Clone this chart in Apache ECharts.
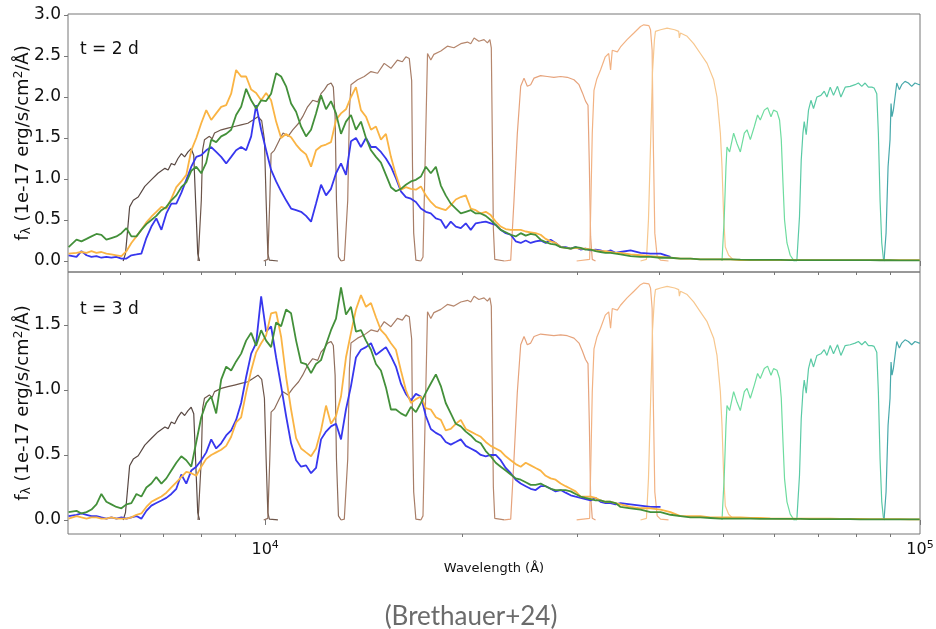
<!DOCTYPE html>
<html>
<head>
<meta charset="utf-8">
<title>Spectra and filter curves</title>
<script src="https://cdn.jsdelivr.net/npm/echarts@6/dist/echarts.min.js"></script>
<style>
  html, body { margin: 0; padding: 0; background: #fff; }
  #chart { width: 936px; height: 629px; }
</style>
</head>
<body>
<div id="chart"></div>
<script>
// Wavelength grid (Å) shared by the spectra
const wavelength = [
  5010, 5152, 5242, 5336, 5430, 5526, 5623, 5722, 5824, 5928,
  6033, 6140, 6248, 6360, 6471, 6586, 6703, 6821, 6944, 7066,
  7191, 7318, 7447, 7579, 7713, 7850, 7988, 8130, 8273, 8419,
  8568, 8720, 8874, 9030, 9191, 9354, 9521, 9689, 9861, 10035,
  10212, 10394, 10578, 10765, 10955, 11150, 11347, 11547, 11752, 11960,
  12172, 12388, 12606, 12830, 13057, 13287, 13523, 13762, 14006, 14256,
  14508, 14765, 15025, 15292, 15563, 15838, 16118, 16403, 16696, 16991,
  17292, 17597, 17906, 18227, 18549, 18870, 19207, 19551, 19897, 20249,
  20606, 20970, 21345, 21722, 22105, 22496, 22894, 23299, 23714, 24135,
  24561, 24998, 25438, 25885, 26345, 26813, 27290, 27767, 28265, 28762,
  29282, 29790, 30320, 30850, 31405, 31955, 32521, 33100, 33686, 34280,
  34890, 36140, 37430, 38770, 40160, 41590, 43070, 44610, 46200, 47860,
  49560, 51340, 53170, 55070, 57030, 59070, 61180, 63360, 65630, 67970,
  70400, 72910, 75510, 78220, 81010, 83900, 86900, 90000, 93220, 96550,
  99900
];

// t = 2 d spectra (1e-17 erg/s/cm2/Å)
const blue2d = [
  0.07, 0.05, 0.12, 0.07, 0.05, 0.06, 0.04, 0.05, 0.04, 0.05,
  0.03, 0.03, 0.07, 0.08, 0.09, 0.28, 0.42, 0.52, 0.38, 0.58,
  0.70, 0.70, 0.83, 0.99, 1.15, 1.27, 1.29, 1.35, 1.39, 1.33,
  1.27, 1.19, 1.27, 1.35, 1.39, 1.35, 1.52, 1.90, 1.60, 1.35,
  1.11, 0.97, 0.85, 0.74, 0.64, 0.62, 0.60, 0.55, 0.48, 0.70,
  0.93, 0.80, 0.88, 1.07, 1.19, 1.05, 1.46, 1.50, 1.39, 1.50,
  1.39, 1.39, 1.33, 1.25, 1.15, 1.01, 0.85, 0.78, 0.76, 0.72,
  0.64, 0.60, 0.58, 0.52, 0.50, 0.40, 0.48, 0.42, 0.40, 0.46,
  0.38, 0.46, 0.47, 0.48, 0.46, 0.44, 0.38, 0.34, 0.32, 0.24,
  0.22, 0.25, 0.22, 0.24, 0.25, 0.22, 0.26, 0.22, 0.17, 0.17,
  0.15, 0.17, 0.14, 0.15, 0.13, 0.14, 0.13, 0.11, 0.13, 0.10,
  0.11, 0.13, 0.10, 0.09, 0.09, 0.05
];
const orange2d = [
  0.09, 0.10, 0.11, 0.10, 0.12, 0.10, 0.11, 0.09, 0.08, 0.07,
  0.06, 0.12, 0.22, 0.30, 0.38, 0.47, 0.54, 0.60, 0.66, 0.64,
  0.76, 0.90, 0.97, 1.05, 1.35, 1.50, 1.68, 1.84, 1.72, 1.80,
  1.88, 1.90, 2.04, 2.33, 2.25, 2.25, 2.09, 2.05, 1.96, 2.05,
  1.96, 1.70, 1.50, 1.55, 1.51, 1.42, 1.35, 1.30, 1.15, 1.35,
  1.40, 1.42, 1.45, 1.72, 1.80, 1.85, 2.00, 2.12, 1.84, 1.76,
  1.60, 1.64, 1.48, 1.55, 1.27, 1.05, 0.87, 0.90, 0.88, 0.87,
  0.91, 0.80, 0.72, 0.66, 0.64, 0.62, 0.68, 0.75, 0.78, 0.80,
  0.64, 0.62, 0.58, 0.60, 0.56, 0.48, 0.42, 0.39, 0.38, 0.38,
  0.38, 0.36, 0.35, 0.34, 0.32, 0.27, 0.24, 0.22, 0.17, 0.16,
  0.15, 0.16, 0.15, 0.15, 0.14, 0.13, 0.12, 0.12, 0.11, 0.10,
  0.10, 0.08, 0.07, 0.06, 0.05, 0.04, 0.03, 0.03, 0.02, 0.02,
  0.02, 0.02, 0.01, 0.01, 0.01, 0.01, 0.01, 0.01, 0.01, 0.01,
  0.01, 0.01, 0.01, 0.01, 0.01, 0.01, 0.01, 0.01, 0.01, 0.01,
  0.01
];
const green2d = [
  0.17, 0.26, 0.24, 0.27, 0.30, 0.33, 0.32, 0.26, 0.28, 0.30,
  0.34, 0.40, 0.30, 0.30, 0.38, 0.45, 0.50, 0.55, 0.62, 0.66,
  0.74, 0.80, 0.90, 0.96, 1.10, 1.15, 1.07, 1.20, 1.48, 1.45,
  1.52, 1.55, 1.60, 1.78, 1.88, 2.10, 1.96, 1.86, 1.96, 1.95,
  2.04, 2.29, 2.25, 2.13, 1.92, 1.82, 1.64, 1.52, 1.60, 1.80,
  2.02, 1.85, 1.95, 1.80, 1.55, 1.70, 1.78, 1.60, 1.70, 1.50,
  1.35, 1.27, 1.20, 1.05, 0.90, 0.85, 0.88, 0.93, 0.97, 0.99,
  1.03, 1.15, 1.07, 1.15, 0.92, 0.80, 0.70, 0.64, 0.58, 0.60,
  0.62, 0.58, 0.58, 0.55, 0.50, 0.44, 0.38, 0.35, 0.32, 0.30,
  0.34, 0.31, 0.33, 0.32, 0.26, 0.23, 0.21, 0.20, 0.17, 0.16,
  0.15, 0.17, 0.16, 0.14, 0.14, 0.12, 0.11, 0.10, 0.10, 0.09,
  0.08, 0.06, 0.05, 0.05, 0.04, 0.04, 0.03, 0.03, 0.02, 0.02,
  0.02, 0.02, 0.016, 0.015, 0.015, 0.014, 0.013, 0.012, 0.012, 0.011,
  0.011, 0.01, 0.01, 0.01, 0.01, 0.01, 0.009, 0.009, 0.008, 0.008,
  0.008
];

// t = 3 d spectra
const blue3d = [
  0.03, 0.04, 0.05, 0.04, 0.03, 0.03, 0.02, 0.01, 0.02, 0.01,
  0.02, 0.01, 0.02, 0.03, 0.01, 0.07, 0.11, 0.13, 0.15, 0.17,
  0.20, 0.24, 0.35, 0.28, 0.38, 0.41, 0.46, 0.52, 0.62, 0.55,
  0.59, 0.65, 0.69, 0.77, 0.90, 1.10, 1.28, 1.36, 1.72, 1.45,
  1.49, 1.25, 1.03, 0.80, 0.59, 0.46, 0.41, 0.42, 0.36, 0.40,
  0.62, 0.68, 0.72, 0.74, 0.62, 0.85, 1.03, 1.25, 1.31, 1.33,
  1.36, 1.27, 1.30, 1.33, 1.26, 1.18, 1.05, 0.97, 0.92, 0.97,
  0.95, 0.80, 0.70, 0.67, 0.65, 0.60, 0.58, 0.60, 0.62, 0.57,
  0.55, 0.53, 0.50, 0.49, 0.50, 0.50, 0.46, 0.40, 0.36, 0.31,
  0.28, 0.26, 0.24, 0.23, 0.26, 0.26, 0.24, 0.22, 0.23, 0.21,
  0.19, 0.18, 0.17, 0.16, 0.15, 0.17, 0.14, 0.13, 0.13, 0.12,
  0.13, 0.12, 0.11, 0.10, 0.10
];
const orange3d = [
  0.01, 0.03, 0.02, 0.01, 0.02, 0.02, 0.01, 0.01, 0.02, 0.01,
  0.01, 0.01, 0.02, 0.04, 0.05, 0.10, 0.14, 0.16, 0.18, 0.21,
  0.25, 0.29, 0.33, 0.37, 0.36, 0.34, 0.41, 0.47, 0.50, 0.52,
  0.54, 0.57, 0.64, 0.75, 0.79, 0.98, 1.15, 1.29, 1.36, 1.42,
  1.59, 1.60, 1.41, 1.10, 0.85, 0.63, 0.55, 0.52, 0.49, 0.55,
  0.69, 0.88, 0.74, 0.80, 0.95, 1.25, 1.44, 1.62, 1.73, 1.64,
  1.67, 1.56, 1.46, 1.42, 1.36, 1.31, 1.15, 1.00, 0.90, 0.93,
  0.95, 0.86, 0.85, 0.79, 0.77, 0.69, 0.70, 0.74, 0.77, 0.70,
  0.68, 0.66, 0.64, 0.60, 0.57, 0.55, 0.53, 0.49, 0.46, 0.43,
  0.41, 0.44, 0.42, 0.40, 0.38, 0.34, 0.32, 0.31, 0.28, 0.26,
  0.24, 0.22, 0.18, 0.18, 0.18, 0.17, 0.15, 0.14, 0.14, 0.13,
  0.12, 0.10, 0.09, 0.09, 0.08, 0.06, 0.03, 0.03, 0.03, 0.02,
  0.02, 0.02, 0.02, 0.015, 0.015, 0.012, 0.01, 0.01, 0.01, 0.01,
  0.01, 0.01, 0.008, 0.008, 0.008, 0.007, 0.007, 0.006, 0.006, 0.005,
  0.005
];
const green3d = [
  0.06, 0.07, 0.05, 0.06, 0.08, 0.12, 0.20, 0.14, 0.12, 0.10,
  0.09, 0.12, 0.13, 0.20, 0.18, 0.25, 0.28, 0.33, 0.28, 0.32,
  0.38, 0.44, 0.49, 0.46, 0.41, 0.60, 0.79, 0.90, 0.95, 0.82,
  1.08, 1.18, 1.15, 1.22, 1.28, 1.38, 1.44, 1.34, 1.46, 1.38,
  1.33, 1.52, 1.49, 1.62, 1.59, 1.38, 1.21, 1.20, 1.13, 1.20,
  1.23, 1.35, 1.46, 1.55, 1.79, 1.58, 1.64, 1.45, 1.46, 1.38,
  1.31, 1.20, 1.15, 1.02, 0.85, 0.85, 0.82, 0.80, 0.87, 0.83,
  0.90, 0.98, 1.05, 1.12, 1.03, 0.90, 0.82, 0.74, 0.72, 0.68,
  0.65, 0.61, 0.59, 0.53, 0.49, 0.44, 0.41, 0.38, 0.35, 0.32,
  0.31, 0.29, 0.27, 0.27, 0.28, 0.26, 0.24, 0.23, 0.23, 0.23,
  0.22, 0.20, 0.18, 0.17, 0.16, 0.15, 0.15, 0.14, 0.14, 0.13,
  0.10, 0.09, 0.08, 0.06, 0.06, 0.04, 0.03, 0.02, 0.02, 0.015,
  0.01, 0.01, 0.01, 0.01, 0.009, 0.009, 0.008, 0.008, 0.008, 0.007,
  0.007, 0.006, 0.006, 0.006, 0.005, 0.005, 0.005, 0.005, 0.005, 0.005,
  0.005
];

// Filter transmission curves [wavelength Å, height in t = 2 d panel units]
const F070W = [[6070,0],[6120,0.09],[6160,0.34],[6210,0.66],[6290,0.74],[6400,0.78],[6550,0.91],[6700,0.99],[6860,1.07],[7030,1.13],[7110,1.11],[7190,1.19],[7275,1.17],[7360,1.25],[7450,1.31],[7535,1.27],[7625,1.33],[7710,1.37],[7780,1.29],[7830,0.74],[7890,0.09],[7940,0]];
const F090W = [[7900,0],[7940,0.02],[7990,0.74],[8025,1.35],[8080,1.48],[8220,1.52],[8300,1.49],[8370,1.56],[8570,1.60],[8770,1.62],[8980,1.64],[9190,1.66],[9410,1.68],[9580,1.72],[9750,1.76],[9880,1.71],[9975,1.48],[10035,0.74],[10095,0.09],[10150,0.01],[10460,0]];
const F115W = [[9950,0],[10095,0.02],[10165,0.74],[10212,1.31],[10330,1.35],[10520,1.48],[10650,1.56],[10840,1.52],[11020,1.60],[11250,1.68],[11410,1.76],[11610,1.88],[11820,1.96],[12030,1.94],[12170,2.04],[12320,2.09],[12460,2.15],[12610,2.17],[12710,2.12],[12790,1.76],[12850,0.74],[12940,0.05],[13060,0]];
const F150W = [[13060,0],[13210,0.01],[13370,0.74],[13450,1.84],[13523,2.15],[13840,2.21],[14170,2.25],[14508,2.31],[14850,2.29],[15200,2.41],[15563,2.35],[15920,2.45],[16200,2.43],[16403,2.49],[16600,2.47],[16680,2.49],[16740,2.20],[16790,1.15],[16860,0.34],[16990,0.01],[17290,0]];
const F200W = [[17290,0],[17420,0.05],[17560,1.30],[17700,2.53],[17906,2.45],[18100,2.52],[18549,2.56],[18980,2.62],[19420,2.60],[19897,2.65],[20370,2.67],[20606,2.65],[20850,2.72],[21200,2.68],[21590,2.70],[21850,2.66],[22040,2.70],[22150,2.60],[22230,1.50],[22310,0.40],[22420,0.02],[23200,0]];
const F277W = [[23200,0],[23714,0.01],[23990,0.74],[24270,1.55],[24561,2.13],[24850,2.23],[25140,2.13],[25438,2.15],[25740,2.23],[26345,2.26],[26960,2.25],[27600,2.24],[28265,2.25],[28930,2.24],[29620,2.21],[30150,2.15],[30520,2.05],[30850,1.95],[31120,1.90],[31260,1.20],[31405,0.30],[31590,0.02],[31955,0]];
const F356W = [[29900,0],[31300,0.02],[31450,0.80],[31590,1.56],[31780,2.08],[32100,2.22],[32520,2.33],[33070,2.49],[33470,2.53],[33690,2.33],[33890,2.57],[34500,2.55],[34890,2.61],[35700,2.70],[36570,2.78],[37430,2.86],[37860,2.88],[38550,2.87],[38770,2.82],[38990,2.57],[39130,1.56],[39360,0.34],[39690,0.05],[40160,0.01],[41300,0]];
const F444W = [[37430,0],[38220,0.02],[38490,0.50],[38770,1.40],[39040,2.30],[39310,2.70],[39450,2.80],[40160,2.82],[41100,2.84],[42210,2.82],[42810,2.80],[42910,2.72],[43070,2.78],[44100,2.74],[45120,2.65],[46200,2.53],[47300,2.41],[48410,2.21],[48980,2.00],[49560,1.56],[49850,1.15],[50140,0.54],[50430,0.17],[51030,0.07],[51800,0.02]];
const F560W = [[49850,0],[50250,0.54],[50550,1.15],[50730,1.39],[51200,1.33],[51930,1.56],[52560,1.43],[53170,1.33],[53920,1.56],[54430,1.60],[55070,1.48],[55850,1.64],[56490,1.78],[57030,1.72],[57840,1.84],[58510,1.87],[59220,1.76],[59760,1.84],[60480,1.82],[61030,1.72],[61400,1.48],[61770,0.95],[62110,0.50],[62640,0.22],[63360,0.07],[64100,0.01],[64870,0]];
const F770W = [[64100,0],[64860,0.01],[65460,0.54],[65860,1.23],[66260,1.56],[66560,1.70],[67030,1.54],[67570,1.84],[68150,1.96],[68770,1.86],[69600,2.00],[70580,2.02],[71410,2.07],[72090,2.00],[72930,2.12],[73780,2.02],[74820,2.13],[75720,2.00],[76870,2.12],[78220,2.13],[79600,2.15],[80520,2.17],[81490,2.13],[82450,2.17],[83410,2.12],[84410,2.12],[85090,2.11],[85900,2.04],[86380,1.56],[86900,0.74],[87420,0.22],[87920,0.03],[88430,0]];
const F1000W = [[88120,0],[88750,0.34],[89380,1.15],[90000,1.48],[90320,1.92],[90630,1.76],[91060,1.84],[91600,2.00],[92160,2.17],[92990,2.09],[93780,2.15],[94870,2.19],[95990,2.17],[97120,2.13],[98260,2.17],[99750,2.15],[100000,2.15]];

const filterCurves = [F070W, F090W, F115W, F150W, F200W, F277W, F356W, F444W, F560W, F770W, F1000W];
const filterColors = ['#584843', '#6e564a', '#8e6d5c', '#a77d67', '#b6876d', '#e6a37c', '#f2b283', '#f7c78e', '#6edc9f', '#5acaa5', '#48a9ab'];
// filter curves in the t = 3 d panel are drawn at this fraction of the t = 2 d height
const filterScale3d = 0.633;

const yTicks2d = [0, 0.5, 1.0, 1.5, 2.0, 2.5, 3.0];
const yTicks3d = [0, 0.5, 1.0, 1.5];
const xMajorTicks = [10000, 100000];
const xMinorTicks = [6000, 7000, 8000, 9000, 20000, 30000, 40000, 50000, 60000, 70000, 80000, 90000];

const FONT = 'DejaVu Sans';
const AXIS_GRAY = '#777';

const chart = echarts.init(document.getElementById('chart'), null, { renderer: 'canvas' });

function logAxis(gridIndex, ticks, tickLen, withLabels) {
  return {
    type: 'log',
    logBase: 10,
    gridIndex: gridIndex,
    position: 'bottom',
    min: 5000,
    max: 100000,
    axisLine: { show: false },
    splitLine: { show: false },
    axisTick: {
      show: true,
      inside: false,
      length: tickLen,
      customValues: ticks,
      lineStyle: { color: AXIS_GRAY, width: 1 }
    },
    axisLabel: withLabels ? {
      show: true,
      customValues: xMajorTicks,
      margin: 6,
      fontFamily: FONT,
      fontSize: 16,
      color: '#111',
      formatter: function (v) {
        return '10{sup|' + Math.round(Math.log10(v)) + '}';
      },
      rich: {
        sup: { fontSize: 11, fontFamily: FONT, color: '#111', verticalAlign: 'top', lineHeight: 20 }
      }
    } : { show: false }
  };
}

const yName = 'f{sub|λ} (1e-17 erg/s/cm{sup|2}/Å)';
const yNameStyle = {
  fontFamily: FONT,
  fontSize: 18,
  color: '#111',
  lineHeight: 20,
  rich: {
    sub: { fontSize: 12, fontFamily: FONT, color: '#111', verticalAlign: 'bottom', lineHeight: 20 },
    sup: { fontSize: 12, fontFamily: FONT, color: '#111', verticalAlign: 'top', lineHeight: 20 }
  }
};

function valueAxis(gridIndex, min, max, ticks) {
  return {
    type: 'value',
    gridIndex: gridIndex,
    min: min,
    max: max,
    name: yName,
    nameLocation: 'middle',
    nameGap: 35,
    nameMoveOverlap: false,
    nameTextStyle: yNameStyle,
    axisLine: { show: false },
    splitLine: { show: false },
    axisTick: { show: true, length: 4, customValues: ticks, lineStyle: { color: AXIS_GRAY } },
    axisLabel: {
      customValues: ticks,
      margin: 7,
      fontFamily: FONT,
      fontSize: 17,
      color: '#111',
      formatter: function (v) { return v.toFixed(1); }
    }
  };
}

function spectrumSeries(values, color, axisIndex) {
  return {
    type: 'line',
    xAxisIndex: axisIndex * 2,
    yAxisIndex: axisIndex,
    data: values.map(function (v, i) { return [wavelength[i], v]; }),
    showSymbol: false,
    symbol: 'none',
    lineStyle: { color: color, width: 1.8 },
    silent: true,
    z: 3
  };
}

function filterSeries(curve, color, axisIndex, scale) {
  return {
    type: 'line',
    xAxisIndex: axisIndex * 2,
    yAxisIndex: axisIndex,
    data: curve.map(function (p) { return [p[0], p[1] * scale]; }),
    showSymbol: false,
    symbol: 'none',
    lineStyle: { color: color, width: 1.2 },
    silent: true,
    z: 2
  };
}

const series = [];
filterCurves.forEach(function (c, i) { series.push(filterSeries(c, filterColors[i], 0, 1)); });
filterCurves.forEach(function (c, i) { series.push(filterSeries(c, filterColors[i], 1, filterScale3d)); });
series.push(spectrumSeries(blue2d, '#3737ee', 0));
series.push(spectrumSeries(orange2d, '#fab444', 0));
series.push(spectrumSeries(green2d, '#43903a', 0));
series.push(spectrumSeries(blue3d, '#3737ee', 1));
series.push(spectrumSeries(orange3d, '#fab444', 1));
series.push(spectrumSeries(green3d, '#43903a', 1));

const bottomMajor = logAxis(1, xMajorTicks, 5, true);
bottomMajor.name = 'Wavelength (Å)';
bottomMajor.nameLocation = 'middle';
bottomMajor.nameGap = 28;
bottomMajor.nameMoveOverlap = false;
bottomMajor.nameTextStyle = { fontFamily: FONT, fontSize: 13, color: '#111' };

const gridBase = {
  left: 68, width: 852, show: true, containLabel: false, outerBoundsMode: 'none',
  borderColor: AXIS_GRAY, borderWidth: 1, backgroundColor: 'transparent'
};

const option = {
  animation: false,
  backgroundColor: '#fff',
  grid: [
    Object.assign({}, gridBase, { top: 14, height: 258 }),
    Object.assign({}, gridBase, { top: 272, height: 262 })
  ],
  xAxis: [
    logAxis(0, xMajorTicks, 5, false),
    logAxis(0, xMinorTicks, 3, false),
    bottomMajor,
    logAxis(1, xMinorTicks, 3, false)
  ],
  yAxis: [
    valueAxis(0, -0.134, 3.012, yTicks2d),
    valueAxis(1, -0.108, 1.908, yTicks3d)
  ],
  series: series,
  graphic: [
    { type: 'text', x: 80, y: 50, style: { text: 't = 2 d', fontFamily: FONT, fontSize: 17, fill: '#111', verticalAlign: 'middle' } },
    { type: 'text', x: 80, y: 310, style: { text: 't = 3 d', fontFamily: FONT, fontSize: 17, fill: '#111', verticalAlign: 'middle' } },
    { type: 'text', x: 471, y: 617, style: { text: '(Brethauer+24)', fontFamily: 'Lato', fontSize: 26, fill: '#6b6b6b', align: 'center', verticalAlign: 'middle' } }
  ]
};

chart.setOption(option);
</script>
</body>
</html>
